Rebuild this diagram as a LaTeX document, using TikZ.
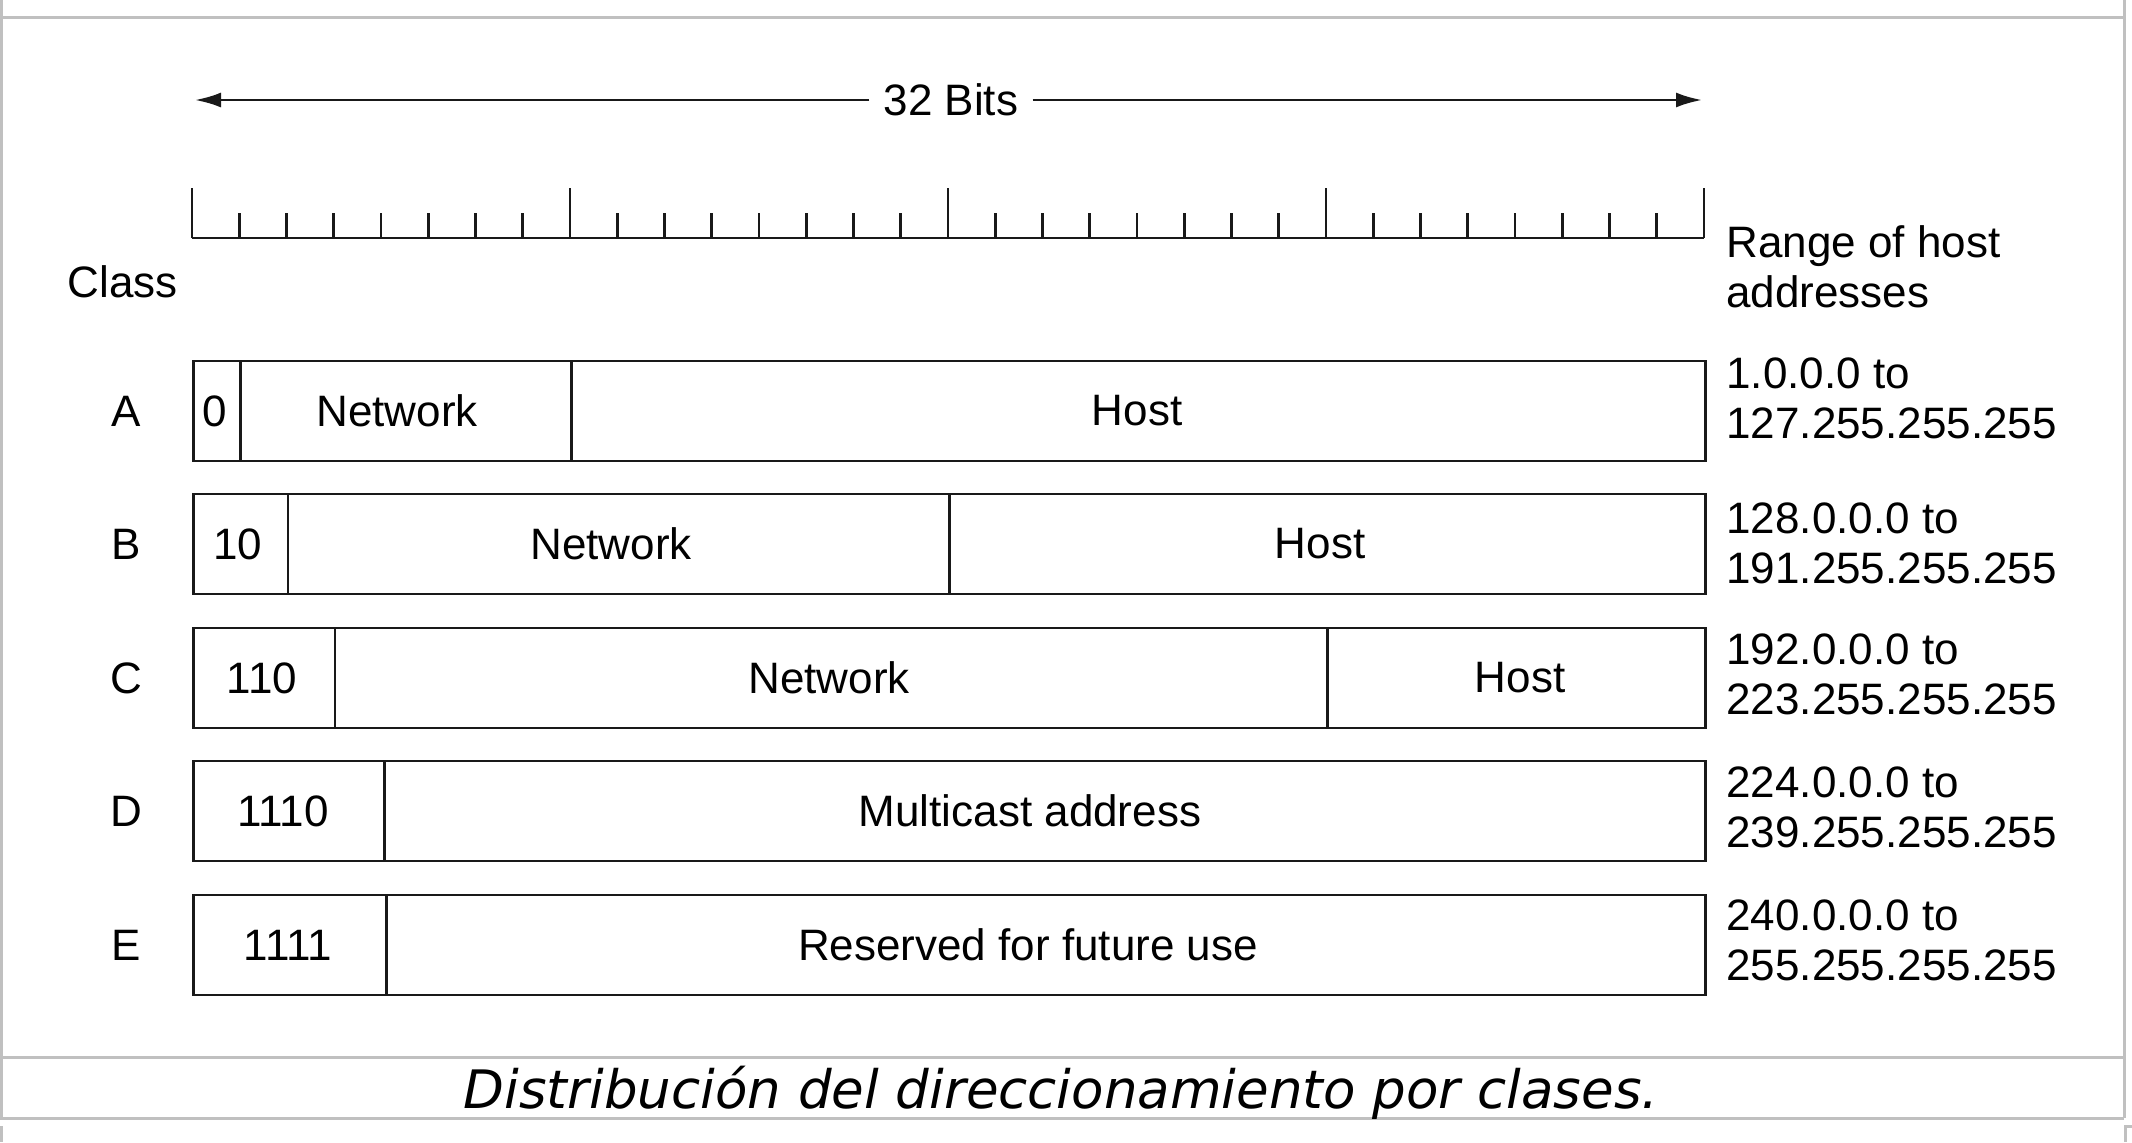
\documentclass[tikz,border=0pt]{standalone}
\usepackage{fontspec}
\setmainfont{Liberation Sans}
\newfontfamily\capfont{DejaVu Sans}
\usetikzlibrary{arrows.meta}
\definecolor{framegray}{RGB}{192,192,192}
\begin{document}
\begin{tikzpicture}[x=0.5pt,y=-0.5pt,
  every node/.style={font=\fontsize{22}{25}\selectfont, inner sep=0pt},
  ink/.style={line width=1.3pt, draw=black!90},
  fieldbox/.style={ink, draw, minimum height=50pt, inner sep=0pt, anchor=west},
  frameline/.style={draw=framegray, line width=1.5pt},
  lbl/.style={anchor=center},
  rangetxt/.style={anchor=base west, align=left},
  bitsarrow/.style={-{Latex[length=13pt,width=7.5pt]}}]
\useasboundingbox (0,0) rectangle (2132,1142);
% outer frame
\draw[frameline] (0,17) -- (2124,17);
\draw[frameline] (1.5,0) -- (1.5,1118);
\draw[frameline] (2124,0) -- (2124,1118);
\draw[frameline] (0,1057) -- (2124,1057);
\draw[frameline] (0,1118) -- (2124,1118);
\draw[frameline] (1.5,1126) -- (1.5,1142);
\draw[frameline] (2132,1126) -- (2125.5,1126) -- (2125.5,1142);
% 32 bits arrow
\coordinate (arrL) at (195,100);
\coordinate (arrR) at (1702,100);
\node[inner xsep=7pt] (bits) at (951,100) {32 Bits};
\draw[ink, bitsarrow] (bits) -- (arrL);
\draw[ink, bitsarrow] (bits) -- (arrR);
% ruler
\draw[ink] (192,238) -- (1704,238);
\foreach \b in {0,...,4} \draw[ink] ({192+378*\b},238) -- ({192+378*\b},188);
\foreach \b in {0,...,3} \foreach \j in {1,...,7}
  \draw[ink] ({192+47.25*(8*\b+\j)},238) -- ({192+47.25*(8*\b+\j)},213);
% headers
\node[anchor=base] (class) at (122.5,297) {Class};
\node[rangetxt] (rangehdr) at (1726,307) {Range of host\\addresses};
% class letters
\node[lbl] (cA) at (126,411) {A};
\node[lbl] (cB) at (126,544) {B};
\node[lbl] (cC) at (126,678) {C};
\node[lbl] (cD) at (126,811) {D};
\node[lbl] (cE) at (126,945) {E};
% row A
\node[fieldbox, minimum width=23.625pt] (a0) at (192,411) {};
\node[fieldbox, minimum width=165.375pt] (aN) at (239.25,411) {};
\node[fieldbox, minimum width=567pt] (aH) at (570,411) {};
\node[lbl] (a0t) at (215,411) {0};
\node[lbl] (aNt) at (397,411) {Network};
\node[lbl] (aHt) at (1137,411) {Host};
% row B
\node[fieldbox, minimum width=47.25pt] (b0) at (192,544) {};
\node[fieldbox, minimum width=330.75pt] (bN) at (286.5,544) {};
\node[fieldbox, minimum width=378pt] (bH) at (948,544) {};
\node[lbl] (b0t) at (238,544) {10};
\node[lbl] (bNt) at (611,544) {Network};
\node[lbl] (bHt) at (1320,544) {Host};
% row C
\node[fieldbox, minimum width=70.875pt] (c0) at (192,678) {};
\node[fieldbox, minimum width=496.125pt] (cN) at (333.75,678) {};
\node[fieldbox, minimum width=189pt] (cH) at (1326,678) {};
\node[lbl] (c0t) at (262,678) {110};
\node[lbl] (cNt) at (829,678) {Network};
\node[lbl] (cHt) at (1520,678) {Host};
% row D
\node[fieldbox, minimum width=95.5pt] (d0) at (192,811) {};
\node[fieldbox, minimum width=660.5pt] (dM) at (383,811) {};
\node[lbl] (d0t) at (283,811) {1110};
\node[lbl] (dMt) at (1030,811) {Multicast address};
% row E
\node[fieldbox, minimum width=96.5pt] (e0) at (192,945) {};
\node[fieldbox, minimum width=659.5pt] (eR) at (385,945) {};
\node[lbl] (e0t) at (288,945) {1111};
\node[lbl] (eRt) at (1028,945) {Reserved for future use};
% ranges (base anchor = baseline of the last line)
\node[rangetxt] (rA) at (1726,438) {1.0.0.0 to\\127.255.255.255};
\node[rangetxt] (rB) at (1726,583) {128.0.0.0 to\\191.255.255.255};
\node[rangetxt] (rC) at (1726,714) {192.0.0.0 to\\223.255.255.255};
\node[rangetxt] (rD) at (1726,847) {224.0.0.0 to\\239.255.255.255};
\node[rangetxt] (rE) at (1726,980) {240.0.0.0 to\\255.255.255.255};
% caption
\node[anchor=base, font=\capfont\itshape\fontsize{26.5}{30}\selectfont] (caption) at (1061,1108) {Distribución del direccionamiento por clases.};
\end{tikzpicture}
\end{document}
